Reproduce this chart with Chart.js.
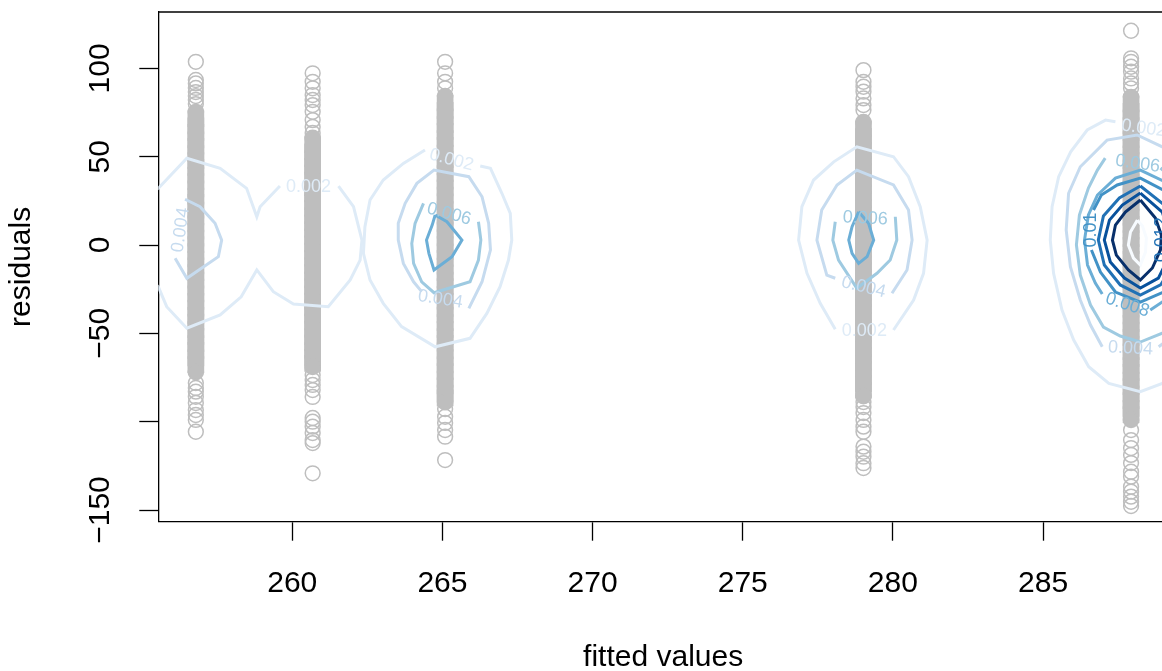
<!DOCTYPE html>
<html>
<head>
<meta charset="utf-8">
<script src="https://cdn.jsdelivr.net/npm/chart.js@4/dist/chart.umd.min.js"></script>
<style>
  html, body { margin: 0; padding: 0; background: #fff; overflow: hidden; }
  #wrap { width: 1162px; height: 671px; overflow: hidden; }
</style>
</head>
<body>
<div id="wrap"><canvas id="residualChart" width="1168" height="671"></canvas></div>
<script>
// fitted value of each column of points
const fittedValues = [256.79, 260.68, 265.09, 279.02, 287.93];

// dense middle of each column (reads as a solid bar)
const core1 = [75.3, 71.6, 67.4, 63.8, 59.5, 55.9, 51.7, 47.8, 44.0, 39.6, 35.9, 31.8, 27.7, 24.1, 19.8, 15.9, 12.0, 7.8, 3.9, 0.2, -3.7, -7.9, -11.8, -15.6, -19.9, -23.8, -27.6, -31.9, -35.7, -39.8, -43.6, -47.9, -51.7, -55.8, -59.6, -63.9, -67.7, -71.9];
const core2 = [60.6, 56.8, 52.7, 48.9, 44.6, 40.8, 36.7, 32.5, 28.9, 24.6, 20.8, 16.7, 12.6, 8.8, 4.7, 0.6, -3.4, -7.5, -11.6, -15.4, -19.7, -23.5, -27.6, -31.7, -35.6, -39.8, -43.5, -47.6, -51.8, -55.4, -59.7, -63.6, -67.0, -69.0];
const core3 = [84.3, 80.4, 76.2, 72.5, 68.1, 64.3, 60.2, 56.4, 52.1, 48.3, 44.2, 40.4, 36.1, 32.3, 28.2, 24.4, 20.1, 16.3, 12.2, 8.4, 4.1, 0.3, -3.8, -7.6, -11.9, -15.7, -19.8, -23.6, -27.9, -31.7, -35.8, -39.6, -43.9, -47.7, -51.8, -55.6, -59.9, -63.7, -67.8, -71.6, -75.9, -79.7, -83.8, -86.5, -88.9];
const core4 = [69.6, 65.7, 61.5, 57.8, 53.4, 49.6, 45.5, 41.7, 37.4, 33.6, 29.5, 25.7, 21.4, 17.6, 13.5, 9.7, 5.4, 1.6, -2.5, -6.3, -10.6, -14.4, -18.5, -22.3, -26.6, -30.4, -34.5, -38.3, -42.6, -46.4, -50.5, -54.3, -58.6, -62.4, -66.5, -70.3, -74.6, -78.4, -82.2, -85.5];
const core5 = [83.8, 79.9, 75.7, 72.0, 67.6, 63.8, 59.7, 55.9, 51.6, 47.8, 43.7, 39.9, 35.6, 31.8, 27.7, 23.9, 19.6, 15.8, 11.7, 7.9, 3.6, -0.2, -4.3, -8.1, -12.4, -16.2, -20.3, -24.1, -28.4, -32.2, -36.3, -40.1, -44.4, -48.2, -52.3, -56.1, -60.4, -64.2, -68.3, -72.1, -76.4, -80.2, -84.3, -88.1, -92.4, -96.0, -99.0];

// the separate points above and below each dense part
const spread1 = [103.7, 93.4, 91.5, 88.9, 86.6, 84.3, 82.1, 79.8, -78.1, -80.9, -83.0, -85.9, -89.4, -93.4, -96.2, -99.0, -105.7];
const spread2 = [97.2, 92.4, 88.7, 84.9, 82.1, 79.2, 75.4, 70.7, 66.8, 63.4, -73.6, -76.4, -79.2, -82.1, -86.0, -97.9, -100.0, -102.8, -106.4, -110.4, -112.1, -129.2];
const spread3 = [103.7, 97.2, 92.4, 88.7, -92.8, -97.2, -100.7, -104.7, -108.5, -121.7];
const spread4 = [99.0, 92.4, 89.6, 86.8, 83.0, 79.2, 76.4, -88.9, -91.7, -95.1, -99.0, -102.8, -105.7, -114.1, -117.0, -119.8, -123.5, -126.2];
const spread5 = [121.3, 105.7, 103.7, 100.9, 98.1, 94.3, 91.5, 88.7, -104.7, -110.4, -114.9, -118.8, -123.4, -128.3, -131.1, -136.8, -139.6, -142.4, -145.3, -147.7];

// density contours, [fitted, residual]
const c12_002a = [[255.3, 29.5], [255.54, 32.1], [256.49, 49.1], [257.6, 43.4], [258.48, 32.1], [258.82, 16.0], [258.93, 21.7], [259.59, 33.4]];
const c12_002b = [[261.54, 33.4], [262.04, 21.7], [262.32, 2.8], [262.26, -8.5], [261.93, -19.8], [261.2, -34.9], [260.04, -33.4], [259.37, -26.4], [258.82, -14.1], [258.3, -29.3], [257.6, -39.6], [256.49, -47.1], [255.82, -34.9], [255.54, -23.6], [255.3, -20]];
const c1_004 = [[256.1, -7.5], [256.49, -18.8], [257.54, -6.6], [257.65, 2.8], [257.43, 12.3], [256.93, 21.7], [256.43, 25.9]];

const c3_002 = [[264.42, 53.8], [263.7, 46.2], [263.03, 36.8], [262.59, 25.5], [262.42, 10.4], [262.37, -4.7], [262.59, -19.8], [263.03, -33.0], [263.64, -46.2], [264.76, -57.6], [265.92, -52.8], [266.48, -38.7], [266.92, -23.6], [267.2, -8.5], [267.31, 2.8], [267.26, 17.9], [266.98, 29.3], [266.6, 43.4], [266.26, 44.7]];
const c3_004 = [[264.31, -26.4], [264.04, -20.8], [263.7, -10.4], [263.53, 2.8], [263.53, 12.3], [263.76, 23.6], [264.15, 34.9], [264.72, 42.4], [265.88, 38.7], [266.32, 27.3], [266.54, 12.3], [266.6, -2.8], [266.32, -20.8], [265.88, -35.9]];
const c3_006 = [[264.37, 23.6], [264.09, 12.3], [263.98, 0.9], [264.04, -10.4], [264.31, -20.8], [264.72, -27.0], [265.92, -20.8], [266.2, -8.5], [266.28, 2.8], [266.2, 13.2]];
const c3_008 = [[264.76, 17.0], [265.15, 13.2], [265.65, 2.8], [265.32, -6.6], [264.72, -14.1], [264.55, -4.7], [264.47, 2.8], [264.66, 11.3], [264.76, 17.0]];

const c4_002 = [[278.08, -47.7], [277.58, -33.0], [277.14, -16.0], [276.86, 2.8], [276.97, 21.7], [277.36, 36.8], [278.03, 47.1], [278.8, 55.6], [280.02, 50.0], [280.52, 38.7], [280.91, 21.7], [281.14, 2.8], [281.02, -16.0], [280.69, -31.1], [280.02, -48.1]];
const c4_004 = [[278.08, -18.8], [277.8, -17.0], [277.47, 2.8], [277.63, 19.8], [278.14, 34.0], [278.8, 42.4], [280.02, 34.0], [280.52, 19.8], [280.64, 2.8], [280.47, -14.1], [279.97, -27.3]];
const c4_006 = [[278.08, 13.2], [278.0, 2.8], [278.19, -8.5], [278.8, -24.5], [279.47, -16.0], [279.91, -8.5], [280.13, 2.8], [280.08, 16.0]];
const c4_008 = [[278.86, 18.8], [279.19, 12.3], [279.36, 2.8], [279.14, -6.6], [278.86, -10.4], [278.64, -4.7], [278.53, 2.8], [278.64, 10.4], [278.86, 18.8]];

const c5_002 = [[287.41, 69.8], [287.08, 70.7], [286.47, 65.1], [285.92, 52.8], [285.52, 38.7], [285.3, 21.7], [285.24, 2.8], [285.35, -16.0], [285.63, -36.8], [286.02, -53.8], [286.52, -68.9], [287.19, -78.3], [288.24, -83.0], [288.97, -78.3], [289.6, -68]];
const c5_004 = [[288.85, -57.6], [289.3, -52], [289.9, -35], [290.3, -10], [290.3, 15], [289.9, 38], [289.4, 50], [288.97, 55.6], [288.13, 62.3], [287.13, 59.4], [286.24, 44.3], [285.85, 29.3], [285.77, 8.5], [285.91, -12.3], [286.24, -31.1], [286.58, -45.3], [286.97, -57.6]];
const c5_006 = [[288.91, 43.6], [289.57, 34.0], [290.07, 17.0], [290.24, 0], [290.07, -19.8], [289.57, -36.8], [289.07, -49.2], [288.24, -54.9], [287.57, -51.5], [287.01, -46.4], [286.58, -34.0], [286.24, -17.0], [286.11, 0], [286.21, 17.0], [286.51, 32.3], [286.81, 42.4], [287.07, 49.2]];
const c5_008 = [[288.57, -36.8], [289.07, -31.1], [289.74, -17.0], [289.97, 2.8], [289.74, 22.6], [289.07, 35.7], [288.24, 42.4], [287.41, 37.9], [286.81, 28.3], [286.51, 17.0], [286.38, 2.8], [286.48, -11.3], [286.74, -21.5], [286.97, -27.7]];
const c5_010 = [[286.68, 19.8], [286.94, 28.3], [287.47, 34.0], [288.24, 37.9], [289.01, 31.1], [289.57, 19.8], [289.74, 4.0], [289.57, -13.0], [289.01, -26.6], [288.24, -32.3], [287.41, -26.6], [286.91, -15.3], [286.61, -2.8]];
const c5_012 = [[288.24, 33.4], [287.54, 26.6], [287.01, 16.4], [286.84, 2.8], [287.04, -11.3], [287.57, -22.6], [288.24, -28.3], [288.91, -22.6], [289.41, -9.6], [289.51, 4.0], [289.17, 20.9], [288.24, 33.4]];
const c5_014 = [[288.24, 29.4], [287.64, 22.6], [287.21, 14.1], [287.04, 2.8], [287.24, -9.6], [287.71, -18.7], [288.24, -24.3], [288.84, -18.7], [289.17, -7.4], [289.24, 4.0], [288.97, 18.7], [288.24, 29.4]];
const c5_016 = [[288.24, 25.5], [287.74, 18.7], [287.41, 11.3], [287.31, 2.8], [287.44, -5.7], [287.84, -14.1], [288.24, -19.8], [288.64, -13.0], [288.91, -2.8], [288.94, 5.7], [288.74, 15.3], [288.24, 25.5]];
const c5_018 = [[288.14, 14.1], [287.91, 7.4], [287.84, 0], [288.01, -7.4], [288.24, -11.3], [288.41, -4.0], [288.44, 4.0], [288.31, 10.8], [288.14, 14.1]];

// contour labels: text, fitted, residual, angle (deg)
const contourLabels = [
  ['0.004', 256.29, 8.5, -82],
  ['0.002', 260.54, 33.0, 0],
  ['0.002', 265.3, 48.1, 15],
  ['0.006', 265.22, 17.5, 15],
  ['0.004', 264.93, -30.7, 9],
  ['0.006', 279.08, 15.1, 3],
  ['0.004', 279.02, -23.9, 14],
  ['0.002', 279.05, -48.5, 0],
  ['0.002', 288.35, 66.0, 8],
  ['0.006', 288.15, 46.0, 8],
  ['0.01', 286.61, 8.5, -90],
  ['0.008', 287.81, -34.0, 18],
  ['0.004', 287.91, -58.5, 3],
  ['0.012', 288.95, 3.0, -90]
];

const xTicks = [260, 265, 270, 275, 280, 285];
const yTicks = [-150, -100, -50, 0, 50, 100];
const yTickLabels = ['\u2212150', '', '\u221250', '0', '50', '100'];

const levels = ['0.002', '0.004', '0.006', '0.008', '0.01', '0.012', '0.014', '0.016', '0.018'];
const levelColors = {
  '0.002': '#DEEBF7', '0.004': '#C6DBEF', '0.006': '#9ECAE1', '0.008': '#6BAED6',
  '0.01': '#4292C6', '0.012': '#2171B5', '0.014': '#08519C', '0.016': '#08306B', '0.018': '#F7FBFF'
};

const contourLines = [
  ['0.002', c12_002a], ['0.002', c12_002b], ['0.004', c1_004],
  ['0.002', c3_002], ['0.004', c3_004], ['0.006', c3_006], ['0.008', c3_008],
  ['0.002', c4_002], ['0.004', c4_004], ['0.006', c4_006], ['0.008', c4_008],
  ['0.002', c5_002], ['0.004', c5_004], ['0.006', c5_006], ['0.008', c5_008],
  ['0.01', c5_010], ['0.012', c5_012], ['0.014', c5_014], ['0.016', c5_016], ['0.018', c5_018]
];

const FONT = '"Liberation Sans", Arial, Helvetica, sans-serif';
const GRAY = '#BEBEBE';

const cores = [core1, core2, core3, core4, core5];
const spreads = [spread1, spread2, spread3, spread4, spread5];

// ends of a dense run are round, the inside is drawn as squares so the bar edges stay straight
const isEnd = c => c.dataIndex === 0 || c.dataIndex === c.dataset.data.length - 1;

const datasets = [];
cores.forEach((vals, i) => {
  datasets.push({
    data: vals.map(r => ({ x: fittedValues[i], y: r })),
    pointStyle: c => isEnd(c) ? 'circle' : 'rect',
    pointRadius: c => isEnd(c) ? 7.6 : 10.75,
    pointBorderWidth: 1.5,
    pointBackgroundColor: GRAY, pointBorderColor: GRAY,
    order: 100
  });
});
spreads.forEach((vals, i) => {
  datasets.push({
    data: vals.map(r => ({ x: fittedValues[i], y: r })),
    pointRadius: 7.4, pointBorderWidth: 1.5,
    pointBackgroundColor: 'rgba(0,0,0,0)', pointBorderColor: GRAY,
    order: 100
  });
});
contourLines.forEach(([lev, pts]) => {
  datasets.push({
    data: pts.map(([x, y]) => ({ x, y })),
    showLine: true, borderColor: levelColors[lev], borderWidth: 3,
    pointRadius: 0, pointHitRadius: 0, tension: 0, fill: false,
    clip: 0,
    order: 50 - levels.indexOf(lev)
  });
});

const decorations = {
  id: 'decorations',
  afterDatasetsDraw(chart) {
    const { ctx, chartArea: a, scales: { x, y } } = chart;
    ctx.save();
    ctx.beginPath();
    ctx.rect(a.left, a.top, a.right - a.left, a.bottom - a.top);
    ctx.clip();
    ctx.font = '18px ' + FONT;
    ctx.textAlign = 'center';
    ctx.textBaseline = 'middle';
    contourLabels.forEach(([text, lx, ly, angle]) => {
      ctx.save();
      ctx.translate(x.getPixelForValue(lx), y.getPixelForValue(ly));
      ctx.rotate(angle * Math.PI / 180);
      ctx.fillStyle = levelColors[text];
      ctx.fillText(text, 0, 0);
      ctx.restore();
    });
    ctx.restore();

    ctx.save();
    // top edge of the box
    ctx.strokeStyle = '#000';
    ctx.lineWidth = 1.3;
    ctx.beginPath();
    ctx.moveTo(a.left, a.top);
    ctx.lineTo(a.right, a.top);
    ctx.stroke();

    ctx.fillStyle = '#000';
    ctx.font = '30px ' + FONT;
    ctx.textAlign = 'center';
    ctx.textBaseline = 'middle';
    yTicks.forEach((v, i) => {
      if (!yTickLabels[i]) return;
      ctx.save();
      ctx.translate(101, y.getPixelForValue(v));
      ctx.rotate(-Math.PI / 2);
      ctx.fillText(yTickLabels[i], 0, 0);
      ctx.restore();
    });
    ctx.fillText('fitted values', (a.left + a.right) / 2, 658);
    ctx.save();
    ctx.translate(22, (a.top + a.bottom) / 2);
    ctx.rotate(-Math.PI / 2);
    ctx.fillText('residuals', 0, 0);
    ctx.restore();
    ctx.restore();
  }
};

new Chart(document.getElementById('residualChart'), {
  type: 'scatter',
  data: { datasets },
  options: {
    responsive: false,
    animation: false,
    layout: { autoPadding: false, padding: { top: 12, right: 0, bottom: 0, left: 0 } },
    plugins: { legend: { display: false }, tooltip: { enabled: false } },
    scales: {
      x: {
        type: 'linear', min: 255.54, max: 289.16,
        afterBuildTicks: s => { s.ticks = xTicks.map(v => ({ value: v })); },
        afterFit: s => { s.height = 149.3; s.paddingLeft = 0; s.paddingRight = 0; },
        grid: { drawOnChartArea: false, drawTicks: true, tickLength: 19, tickColor: '#000', tickWidth: 1.3 },
        border: { display: true, color: '#000', width: 1.3 },
        ticks: { color: '#000', font: { family: FONT, size: 30 }, padding: 25, maxRotation: 0, autoSkip: false }
      },
      y: {
        type: 'linear', min: -156.6, max: 131.9,
        afterBuildTicks: s => { s.ticks = yTicks.map(v => ({ value: v })); },
        afterFit: s => { s.width = 158.3; s.paddingTop = 0; s.paddingBottom = 0; },
        grid: { drawOnChartArea: false, drawTicks: true, tickLength: 19, tickColor: '#000', tickWidth: 1.3 },
        border: { display: true, color: '#000', width: 1.3 },
        ticks: { callback: () => '', autoSkip: false }
      }
    }
  },
  plugins: [decorations]
});
</script>
</body>
</html>
